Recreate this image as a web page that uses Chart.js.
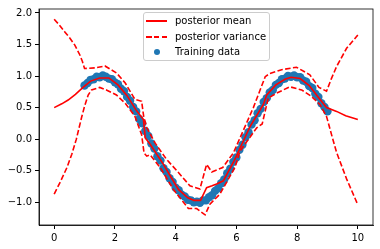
<!DOCTYPE html>
<html>
<head>
<meta charset="utf-8">
<script src="https://cdn.jsdelivr.net/npm/chart.js@4/dist/chart.umd.min.js"></script>
<style>
  html, body { margin: 0; padding: 0; background: #fff; }
  #wrap { position: relative; width: 380px; height: 249px; }
  #legend {
    position: absolute; left: 143px; top: 12px; width: 125px; height: 47px;
    border: 1px solid #cccccc; border-radius: 3px; background: rgba(255,255,255,0.8);
    font-family: "DejaVu Sans", sans-serif; font-size: 10px; color: #000;
  }
  .row { position: absolute; left: 0; height: 14px; width: 100%; }
  .row span { position: absolute; left: 31px; top: 0; line-height: 14px; white-space: nowrap; }
  .solid { position: absolute; left: 2px; top: 6px; width: 21px; height: 1.5px; background: #ff0000; }
  .dash { position: absolute; left: 2px; top: 6px; width: 21px; height: 1.5px;
    background: repeating-linear-gradient(to right, #ff0000 0, #ff0000 5.5px, transparent 5.5px, transparent 7.9px); }
  .dot { position: absolute; left: 10px; top: 4px; width: 6px; height: 6px; border-radius: 50%; background: #1f77b4; }
</style>
</head>
<body>
<div id="wrap">
  <canvas id="chart" width="380" height="249"></canvas>
  <div id="legend">
    <div class="row" style="top:1px"><div class="solid"></div><span>posterior mean</span></div>
    <div class="row" style="top:17px"><div class="dash"></div><span>posterior variance</span></div>
    <div class="row" style="top:32px"><div class="dot"></div><span>Training data</span></div>
  </div>
</div>
<script>
// axis ticks
const xTicks = [0, 2, 4, 6, 8, 10];
const yTicks = [-1.0, -0.5, 0.0, 0.5, 1.0, 1.5, 2.0];

// posterior mean (test points)
const meanX = [0, 0.25, 0.46, 0.7, 0.95, 1.2, 1.5, 1.8, 2.1, 2.4, 2.7, 2.94, 3.0, 3.16, 3.6, 3.82, 4.1, 4.4, 4.6, 4.82, 5.02, 5.2, 5.35, 5.57, 5.95, 6.45, 6.89, 7.0, 7.3, 7.6, 7.8, 8.1, 8.4, 8.64, 8.97, 9.3, 9.6, 10];
const meanY = [0.5, 0.56, 0.62, 0.71, 0.82, 0.92, 0.97, 0.97, 0.86, 0.69, 0.46, 0.31, 0.02, -0.08, -0.4, -0.58, -0.8, -0.93, -0.97, -0.97, -0.77, -0.74, -0.71, -0.66, -0.32, 0.2, 0.55, 0.70, 0.86, 0.95, 0.98, 0.96, 0.85, 0.70, 0.5, 0.44, 0.37, 0.31];

// upper / lower variance bounds
const upperX = [0, 0.17, 0.35, 0.52, 0.68, 0.85, 0.93, 1.0, 1.34, 1.67, 2.05, 2.34, 2.66, 2.88, 2.95, 3.05, 3.32, 3.7, 4.04, 4.47, 4.8, 5.02, 5.19, 5.55, 5.9, 6.12, 6.56, 6.95, 7.1, 7.49, 7.98, 8.42, 8.72, 8.97, 9.13, 9.3, 9.63, 10];
const upperY = [1.9, 1.81, 1.70, 1.60, 1.49, 1.33, 1.23, 1.12, 1.13, 1.16, 1.05, 0.89, 0.63, 0.6, 0.35, 0.18, -0.06, -0.32, -0.5, -0.74, -0.79, -0.4, -0.52, -0.45, -0.22, 0.02, 0.5, 0.99, 1.04, 1.1, 1.14, 1.02, 0.82, 0.76, 0.96, 1.15, 1.44, 1.65];

const lowerX = [0, 0.2, 0.42, 0.58, 0.73, 0.9, 1.0, 1.12, 1.23, 1.5, 1.72, 2.05, 2.34, 2.66, 2.88, 2.96, 3.05, 3.16, 3.49, 3.93, 4.42, 4.69, 4.97, 5.13, 5.46, 5.95, 6.12, 6.67, 6.85, 7.05, 7.33, 7.76, 8.15, 8.47, 8.75, 8.97, 9.13, 9.3, 9.63, 10];
const lowerY = [-0.87, -0.68, -0.45, -0.24, 0.0, 0.34, 0.52, 0.7, 0.78, 0.82, 0.78, 0.70, 0.57, 0.36, 0.07, -0.22, -0.27, -0.25, -0.45, -0.8, -1.1, -1.1, -1.2, -1.03, -0.87, -0.45, -0.19, 0.18, 0.24, 0.65, 0.73, 0.83, 0.78, 0.68, 0.55, 0.36, 0.08, -0.21, -0.63, -1.04];

// training data
const trainX = [1.0, 1.1, 1.2, 1.3, 1.4, 1.5, 1.6, 1.7, 1.8, 1.9,
  2.0, 2.1, 2.2, 2.3, 2.4, 2.5, 2.6, 2.7, 2.8, 2.9,
  3.0, 3.1, 3.2, 3.3, 3.4, 3.5, 3.6, 3.7, 3.8, 3.9,
  4.0, 4.1, 4.2, 4.3, 4.4, 4.5, 4.6, 4.7, 4.8, 4.9,
  5.0, 5.1, 5.2, 5.3, 5.4, 5.5, 5.6, 5.7, 5.8, 5.9,
  6.0, 6.1, 6.2, 6.3, 6.4, 6.5, 6.6, 6.7, 6.8, 6.9,
  7.0, 7.1, 7.2, 7.3, 7.4, 7.5, 7.6, 7.7, 7.8, 7.9,
  8.0, 8.1, 8.2, 8.3, 8.4, 8.5, 8.6, 8.7, 8.8, 8.9, 9.0];
const trainY = [0.85, 0.89, 0.94, 0.95, 0.99, 0.98, 1.01, 0.99, 0.96, 0.95,
  0.90, 0.87, 0.80, 0.76, 0.67, 0.61, 0.51, 0.44, 0.32, 0.25,
  0.13, 0.05, -0.07, -0.15, -0.27, -0.34, -0.46, -0.52, -0.62, -0.68,
  -0.77, -0.81, -0.88, -0.91, -0.96, -0.97, -1.00, -0.99, -1.01, -0.97,
  -0.97, -0.92, -0.89, -0.82, -0.78, -0.70, -0.64, -0.54, -0.47, -0.36,
  -0.29, -0.17, -0.09, 0.03, 0.11, 0.23, 0.30, 0.41, 0.48, 0.59,
  0.65, 0.74, 0.78, 0.86, 0.89, 0.95, 0.96, 1.00, 0.99, 1.01,
  0.98, 0.98, 0.93, 0.91, 0.84, 0.81, 0.72, 0.67, 0.57, 0.51, 0.44];

const toPoints = (xs, ys) => xs.map((x, i) => ({ x: x, y: ys[i] }));

// matplotlib-like box around the axes
const spines = {
  id: "spines",
  afterDraw(chart) {
    const a = chart.chartArea;
    const ctx = chart.ctx;
    ctx.save();
    ctx.strokeStyle = "#000";
    ctx.lineWidth = 0.8;
    ctx.strokeRect(a.left, a.top, a.right - a.left, a.bottom - a.top);
    ctx.restore();
  },
};

const tickFont = { family: "DejaVu Sans", size: 10 };

new Chart(document.getElementById("chart"), {
  type: "scatter",
  data: {
    datasets: [
      {
        label: "posterior mean",
        data: toPoints(meanX, meanY),
        showLine: true,
        borderColor: "#ff0000",
        borderWidth: 1.6,
        pointRadius: 0,
        tension: 0,
      },
      {
        label: "posterior variance",
        data: toPoints(upperX, upperY),
        showLine: true,
        borderColor: "#ff0000",
        borderWidth: 1.6,
        borderDash: [5.5, 2.4],
        pointRadius: 0,
        tension: 0,
      },
      {
        label: "posterior variance lower",
        data: toPoints(lowerX, lowerY),
        showLine: true,
        borderColor: "#ff0000",
        borderWidth: 1.6,
        borderDash: [5.5, 2.4],
        pointRadius: 0,
        tension: 0,
      },
      {
        label: "Training data",
        data: toPoints(trainX, trainY),
        showLine: false,
        pointRadius: 4.2,
        pointBorderWidth: 0,
        backgroundColor: "#1f77b4",
        borderColor: "#1f77b4",
      },
    ],
  },
  options: {
    responsive: false,
    animation: false,
    devicePixelRatio: 1,
    layout: { padding: { top: 7, right: 7, left: 0, bottom: 0 } },
    plugins: { legend: { display: false }, tooltip: { enabled: false } },
    scales: {
      x: {
        type: "linear",
        min: -0.5,
        max: 10.5,
        afterBuildTicks: (s) => { s.ticks = xTicks.map((v) => ({ value: v })); },
        afterFit: (s) => { s.height = 24; },
        grid: { display: true, drawOnChartArea: false, drawTicks: true, tickLength: 4, color: "#000" },
        border: { display: true, color: "#000", width: 0.8 },
        ticks: { font: tickFont, color: "#000", padding: 3, maxRotation: 0, callback: (v) => String(v) },
      },
      y: {
        min: -1.361,
        max: 2.063,
        afterBuildTicks: (s) => { s.ticks = yTicks.map((v) => ({ value: v })); },
        afterFit: (s) => { s.width = 39; },
        grid: { display: true, drawOnChartArea: false, drawTicks: true, tickLength: 4, color: "#000" },
        border: { display: true, color: "#000", width: 0.8 },
        ticks: { font: tickFont, color: "#000", padding: 3, callback: (v) => v.toFixed(1).replace("-", "\u2212") },
      },
    },
  },
  plugins: [spines],
});
</script>
</body>
</html>
